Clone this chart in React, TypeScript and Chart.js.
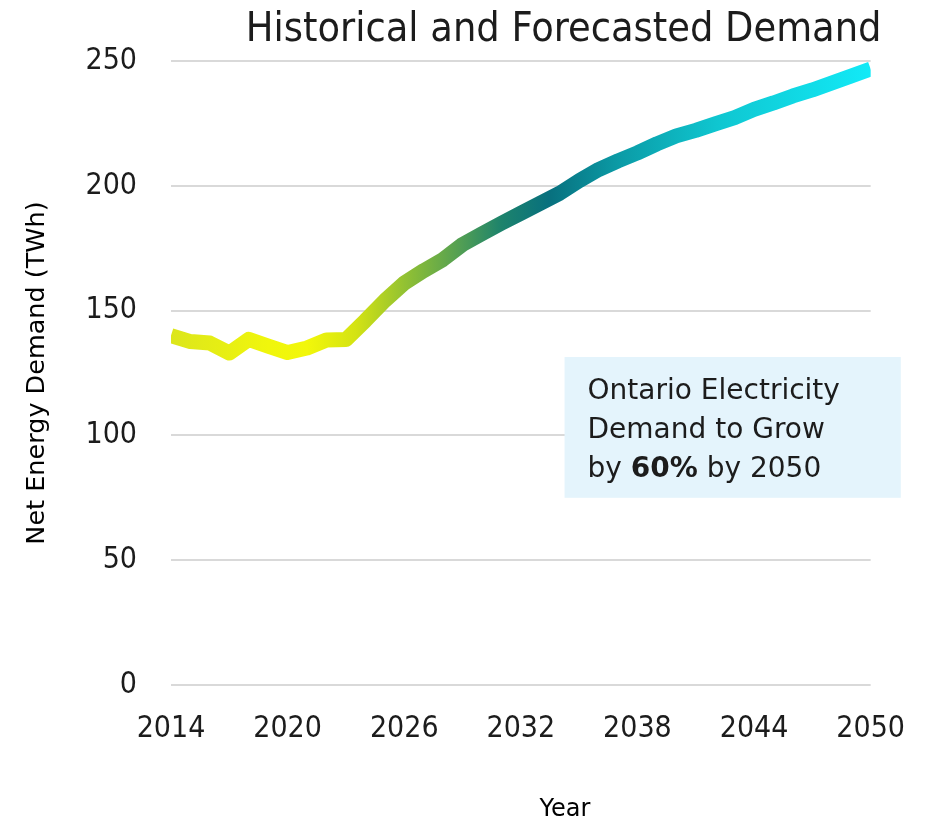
import React, { useEffect, useRef } from "react";
import { Chart, registerables } from "chart.js";

Chart.register(...registerables);

const TITLE = "Historical and Forecasted Demand";
const X_TITLE = "Year";
const Y_TITLE = "Net Energy Demand (TWh)";

const YEARS = [
  2014, 2015, 2016, 2017, 2018, 2019, 2020, 2021, 2022, 2023, 2024, 2025, 2026,
  2027, 2028, 2029, 2030, 2031, 2032, 2033, 2034, 2035, 2036, 2037, 2038, 2039,
  2040, 2041, 2042, 2043, 2044, 2045, 2046, 2047, 2048, 2049, 2050,
];
const DEMAND = [
  140, 137.6, 137, 133, 138.5, 135.8, 133.2, 135, 138.2, 138.4, 146, 154, 161,
  166, 170.5, 176.5, 180.8, 185, 189, 193, 197, 202, 206.5, 210, 213.2, 216.8,
  220, 222.2, 224.8, 227.3, 230.6, 233.2, 236, 238.4, 241.2, 244, 246.8,
];

const X_MIN = 2014;
const X_MAX = 2050;
const X_STEP = 6;
const Y_MIN = 0;
const Y_MAX = 250;
const Y_STEP = 50;

const NOTE_LINE1 = "Ontario Electricity";
const NOTE_LINE2 = "Demand to Grow";
const NOTE_LINE3_PARTS = ["by ", "60%", " by 2050"];

// gradient stops: [fraction along x, color]
const GRADIENT_STOPS: [number, string][] = [
  [0, "#dce61c"],
  [0.139, "#f0f60c"],
  [0.194, "#f2f70a"],
  [0.264, "#d4e313"],
  [0.333, "#93c232"],
  [0.417, "#4f9d55"],
  [0.472, "#1d836c"],
  [0.54, "#08707e"],
  [0.64, "#0b9ba6"],
  [0.78, "#0fc6d0"],
  [1, "#12eaf7"],
];

const TEXT = "#1c1c1c";
const TICK_FONT = '"DejaVu Sans Condensed", "DejaVu Sans", sans-serif';
const BODY_FONT = '"DejaVu Sans", sans-serif';

const overlayPlugin = {
  id: "overlayTexts",
  afterDraw(chart: any) {
    const { ctx, chartArea } = chart;
    const xs = chart.scales.x;
    const ys = chart.scales.y;
    ctx.save();
    // title
    ctx.fillStyle = TEXT;
    ctx.font = `41px ${TICK_FONT}`;
    ctx.textAlign = "center";
    ctx.textBaseline = "alphabetic";
    ctx.fillText(TITLE, chartArea.right - 307, chartArea.top - 20);

    // x axis title
    ctx.fillStyle = "#000";
    ctx.font = `24px ${BODY_FONT}`;
    ctx.fillText(X_TITLE, chartArea.left + 394, chart.height - 4);

    // note box
    const bx0 = xs.getPixelForValue(2034.25);
    const bx1 = xs.getPixelForValue(2051.55);
    const by0 = ys.getPixelForValue(131.4);
    const by1 = ys.getPixelForValue(75);
    ctx.fillStyle = "#e4f4fc";
    ctx.fillRect(bx0, by0, bx1 - bx0, by1 - by0);

    ctx.fillStyle = TEXT;
    ctx.textAlign = "left";
    const tx = bx0 + 23;
    ctx.font = `28px ${BODY_FONT}`;
    ctx.fillText(NOTE_LINE1, tx, by0 + 42);
    ctx.fillText(NOTE_LINE2, tx, by0 + 81);
    let cx = tx;
    NOTE_LINE3_PARTS.forEach((p, i) => {
      ctx.font = i === 1 ? `bold 28px ${BODY_FONT}` : `28px ${BODY_FONT}`;
      ctx.fillText(p, cx, by0 + 120);
      cx += ctx.measureText(p).width;
    });
    ctx.restore();
  },
};

export default function App() {
  const ref = useRef<HTMLCanvasElement>(null);
  useEffect(() => {
    document.body.style.margin = "0";
    if (!ref.current) return;
    const chart = new Chart(ref.current, {
      type: "line",
      data: {
        datasets: [
          {
            data: YEARS.map((yr, i) => ({ x: yr, y: DEMAND[i] })),
            borderWidth: 15,
            pointRadius: 0,
            tension: 0,
            fill: false,
            borderCapStyle: "butt",
            borderJoinStyle: "round",
            borderColor: (c: any) => {
              const ch = c.chart;
              const area = ch.chartArea;
              if (!area) return "#0b9ba6";
              const g = ch.ctx.createLinearGradient(area.left, 0, area.right, 0);
              GRADIENT_STOPS.forEach(([o, col]) => g.addColorStop(o, col));
              return g;
            },
          },
        ],
      },
      options: {
        animation: false,
        responsive: true,
        maintainAspectRatio: false,
        layout: { padding: { top: 61, right: 59, left: 0, bottom: 0 } },
        plugins: {
          legend: { display: false },
          tooltip: { enabled: false },
          title: { display: false },
        },
        scales: {
          x: {
            type: "linear",
            min: X_MIN,
            max: X_MAX,
            afterFit: (s: any) => {
              s.height = 135;
            },
            ticks: {
              stepSize: X_STEP,
              callback: (v: any) => String(v),
              font: { family: TICK_FONT, size: 30 },
              color: TEXT,
              padding: 26,
              maxRotation: 0,
            },
            grid: { display: false, drawTicks: false },
            border: { display: false },
          },
          y: {
            min: Y_MIN,
            max: Y_MAX,
            afterFit: (s: any) => {
              s.width = 171;
            },
            ticks: {
              stepSize: Y_STEP,
              font: { family: TICK_FONT, size: 30 },
              color: TEXT,
              padding: 34,
            },
            grid: { color: "#d9d9d9", lineWidth: 2, drawTicks: false },
            border: { display: false },
            title: {
              display: true,
              text: Y_TITLE,
              color: "#000",
              font: { family: BODY_FONT, size: 25.5 },
              padding: { top: 22, bottom: 0 },
            },
          },
        },
      },
      plugins: [overlayPlugin],
    });
    return () => chart.destroy();
  }, []);
  return (
    <div style={{ position: "relative", width: 931, height: 820 }}>
      <canvas ref={ref} />
    </div>
  );
}
